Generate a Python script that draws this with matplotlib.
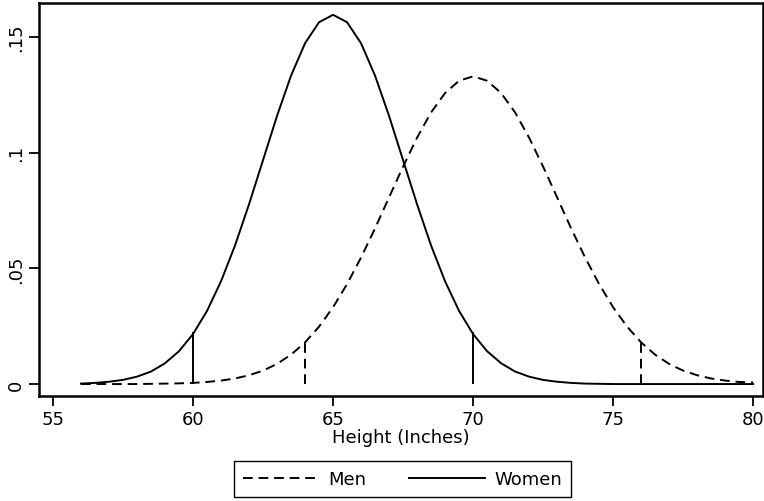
import matplotlib
matplotlib.use('Agg')
import matplotlib.pyplot as plt

plt.rcParams['font.family'] = ['DejaVu Sans']

# heights (inches), read at half-inch steps
heights = [56 + 0.5 * i for i in range(49)]

# women's curve, 56 .. 80
women = [0.0002, 0.0005, 0.0010, 0.0018, 0.0032, 0.0054, 0.0090, 0.0142, 0.0216, 0.0316,
         0.0444, 0.0599, 0.0777, 0.0968, 0.1159, 0.1333, 0.1473, 0.1564, 0.1596, 0.1564,
         0.1473, 0.1333, 0.1159, 0.0968, 0.0777, 0.0599, 0.0444, 0.0316, 0.0216, 0.0142,
         0.0090, 0.0054, 0.0032, 0.0018, 0.0010, 0.0005, 0.0002, 0.0001, 0.0000, 0.0000,
         0.0000, 0.0000, 0.0000, 0.0000, 0.0000, 0.0000, 0.0000, 0.0000, 0.0000]

# men's curve, 56 .. 80
men = [0.0000, 0.0000, 0.0000, 0.0000, 0.0000, 0.0001, 0.0002, 0.0003, 0.0005, 0.0009,
       0.0015, 0.0024, 0.0038, 0.0058, 0.0087, 0.0127, 0.0180, 0.0248, 0.0332, 0.0432,
       0.0547, 0.0673, 0.0807, 0.0940, 0.1065, 0.1174, 0.1258, 0.1311, 0.1330, 0.1311,
       0.1258, 0.1174, 0.1065, 0.0940, 0.0807, 0.0673, 0.0547, 0.0432, 0.0332, 0.0248,
       0.0180, 0.0127, 0.0087, 0.0058, 0.0038, 0.0024, 0.0015, 0.0009, 0.0007]

# markers at mean +/- 2 sd
women_marks = [60, 70]
women_mark_h = [0.0225, 0.0225]
men_marks = [64, 76]
men_mark_h = [0.0190, 0.0190]

xticks = [55, 60, 65, 70, 75, 80]
yticks = [0, 0.05, 0.1, 0.15]
ylabels = ['0', '.05', '.1', '.15']

fig = plt.figure(figsize=(7.64, 5.02), dpi=100)
ax = fig.add_axes([0.051, 0.209, 0.948, 0.783])

dash = (0, (5, 3))
ax.plot(heights, men, color='black', lw=1.4, linestyle=dash, label='Men')
ax.plot(heights, women, color='black', lw=1.4, label='Women')
ax.vlines(men_marks, 0, men_mark_h, color='black', lw=1.4, linestyles=[dash])
ax.vlines(women_marks, 0, women_mark_h, color='black', lw=1.4)

ax.set_xlim(54.5, 80.36)
ax.set_ylim(-0.0052, 0.1647)
ax.set_xticks(xticks)
ax.set_yticks(yticks)
ax.set_yticklabels(ylabels, rotation=90, va='center')
ax.tick_params(direction='out', length=7, width=1.3, labelsize=13, pad=3)
for s in ax.spines.values():
    s.set_linewidth(1.8)
ax.set_xlabel('Height (Inches)', fontsize=13, labelpad=0)

fig.legend(loc='center', bbox_to_anchor=(0.527, 0.044), ncol=2, fontsize=13,
           frameon=True, fancybox=False, edgecolor='black', framealpha=1,
           handlelength=4.2, handletextpad=0.5, columnspacing=2.4, borderpad=0.5)
fig.legend_ = None

fig.savefig('out.png', dpi=100)
